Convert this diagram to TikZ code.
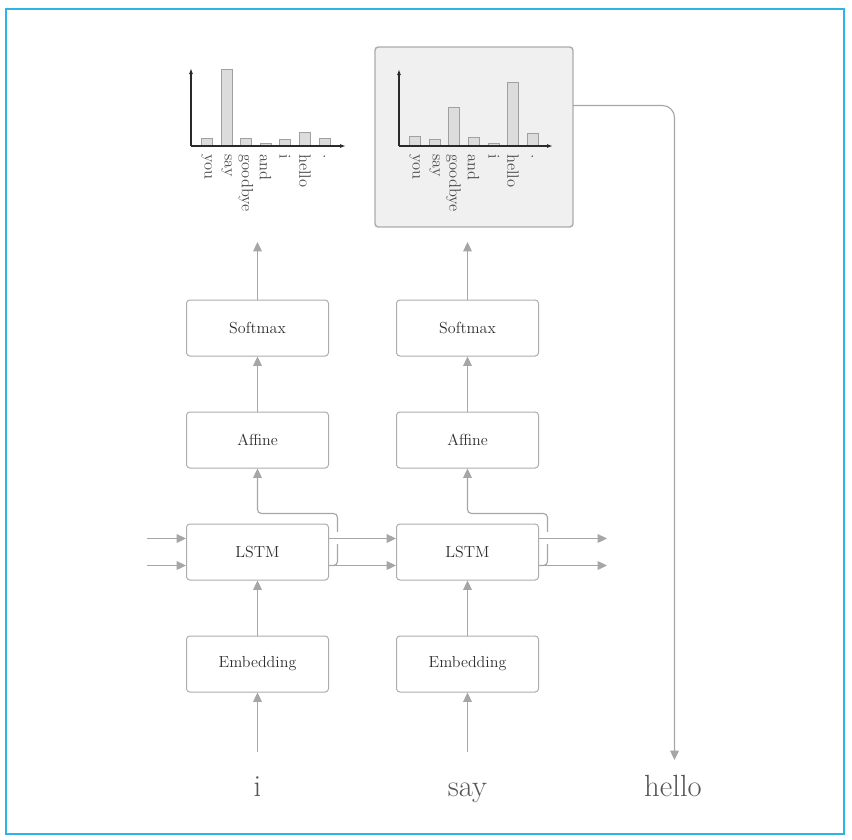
\documentclass[tikz,border=0pt]{standalone}
\usetikzlibrary{arrows.meta}
\definecolor{ln}{HTML}{A6A6A6}
\definecolor{boxc}{HTML}{ACACAC}
\definecolor{txt}{HTML}{2E2E2E}
\definecolor{wtxt}{HTML}{555555}
\definecolor{frm}{HTML}{2BB5E6}
\definecolor{barf}{HTML}{DCDCDC}
\definecolor{barb}{HTML}{A0A0A0}
\definecolor{axc}{HTML}{2A2A2A}
\definecolor{chf}{HTML}{F0F0F0}
\begin{document}
\begin{tikzpicture}[x=0.75pt,y=-0.75pt,
  blk/.style={draw=boxc, rounded corners=2.5pt, minimum width=106.5pt, minimum height=42pt,
    inner sep=0pt, font=\fontsize{12}{14}\selectfont, text=txt, line width=0.75pt},
  conn/.style={draw=ln, line width=0.85pt, -{Triangle[length=7pt,width=6.5pt]}},
  word/.style={font=\fontsize{23}{26}\selectfont, text=wtxt, anchor=base, inner sep=0pt},
  bar/.style={draw=barb, fill=barf, line width=0.6pt},
  axis/.style={draw=axc, line width=0.9pt, -{Latex[length=4.5pt,width=3pt]}},
  blab/.style={font=\fontsize{12.3}{14}\selectfont, text=wtxt!85!black, rotate=-90, anchor=west, inner sep=0pt}
]
\useasboundingbox (0,0) rectangle (852,839);
\draw[frm, line width=1.2pt] (6,9) rectangle (844,834);

% boxes
\node[blk] (sm1) at (257.5,328) {Softmax};
\node[blk] (af1) at (257.5,440) {Affine};
\node[blk] (ls1) at (257.5,552) {LSTM};
\node[blk] (em1) at (257.5,664) {Embedding};
\node[blk] (sm2) at (467.5,328) {Softmax};
\node[blk] (af2) at (467.5,440) {Affine};
\node[blk] (ls2) at (467.5,552) {LSTM};
\node[blk] (em2) at (467.5,664) {Embedding};

% chart 2 box
\node[draw=boxc, fill=chf, line width=1.1pt, rounded corners=2.5pt, minimum width=148.5pt,
  minimum height=135pt, inner sep=0pt] (ch2) at (474,137) {};

% words
\node[word] (w1) at (257.5,796) {i};
\node[word] (w2) at (467.5,796) {say};
\node[word] (w3) at (673,796) {hello};

% coordinates
\coordinate (w1s) at (257.5,752);
\coordinate (w2s) at (467.5,752);
\coordinate (w3e) at (674.5,760);
\coordinate (ch1in) at (257.5,242);
\coordinate (ch2in) at (467.5,242);
\coordinate (ch2out) at (573,105.5);
\coordinate (inA) at (147,538.5);
\coordinate (inB) at (147,565.5);
\coordinate (outA) at (607,538.5);
\coordinate (outB) at (607,565.5);

% vertical connectors
\draw[conn] (w1s) -- (em1.south);
\draw[conn] (w2s) -- (em2.south);
\draw[conn] (em1.north) -- (ls1.south);
\draw[conn] (em2.north) -- (ls2.south);
\draw[conn] (af1.north) -- (sm1.south);
\draw[conn] (af2.north) -- (sm2.south);
\draw[conn] (sm1.north) -- (ch1in);
\draw[conn] (sm2.north) -- (ch2in);

% h paths to affine
\draw[conn, rounded corners=3pt] (ls1.east |- inB) -- (337.5,565.5) -- (337.5,513.5) -- (257.5,513.5) -- (af1.south);
\draw[conn, rounded corners=3pt] (ls2.east |- inB) -- (547.5,565.5) -- (547.5,513.5) -- (467.5,513.5) -- (af2.south);
\fill[white] (334,532) rectangle (341,544);
\fill[white] (544,532) rectangle (551,544);

% horizontal connectors
\draw[conn] (inA) -- (ls1.west |- inA);
\draw[conn] (inB) -- (ls1.west |- inB);
\draw[conn] (ls1.east |- inA) -- (ls2.west |- inA);
\draw[conn] (ls1.east |- inB) -- (ls2.west |- inB);
\draw[conn] (ls2.east |- inA) -- (outA);
\draw[conn] (ls2.east |- inB) -- (outB);

% chart 2 to hello
\draw[conn, rounded corners=9pt] (ch2out) -| (w3e);

% chart 1
\foreach \c/\t in {206.5/138,226.5/69,246/138,265.5/143,285/139,305/132,324.5/138}
  \draw[bar] (\c-5.5,146) rectangle (\c+5.5,\t);
\draw[axis] (191,146) -- (191,68);
\draw[axis] (191,146) -- (346,146);
\foreach \c/\l in {206.5/you,226.5/say,246/goodbye,265.5/and,285/i,305/hello,324.5/.}
  \node[blab] at (\c,154) {\l};

% chart 2
\foreach \c/\t in {414.5/136,434.5/139,453.5/107,473.5/137,494/143,513/82,532.5/133}
  \draw[bar] (\c-5.5,146) rectangle (\c+5.5,\t);
\draw[axis] (399,146) -- (399,69);
\draw[axis] (399,146) -- (553,146);
\foreach \c/\l in {414.5/you,434.5/say,453.5/goodbye,473.5/and,494/i,513/hello,532.5/.}
  \node[blab] at (\c,154) {\l};
\end{tikzpicture}
\end{document}
